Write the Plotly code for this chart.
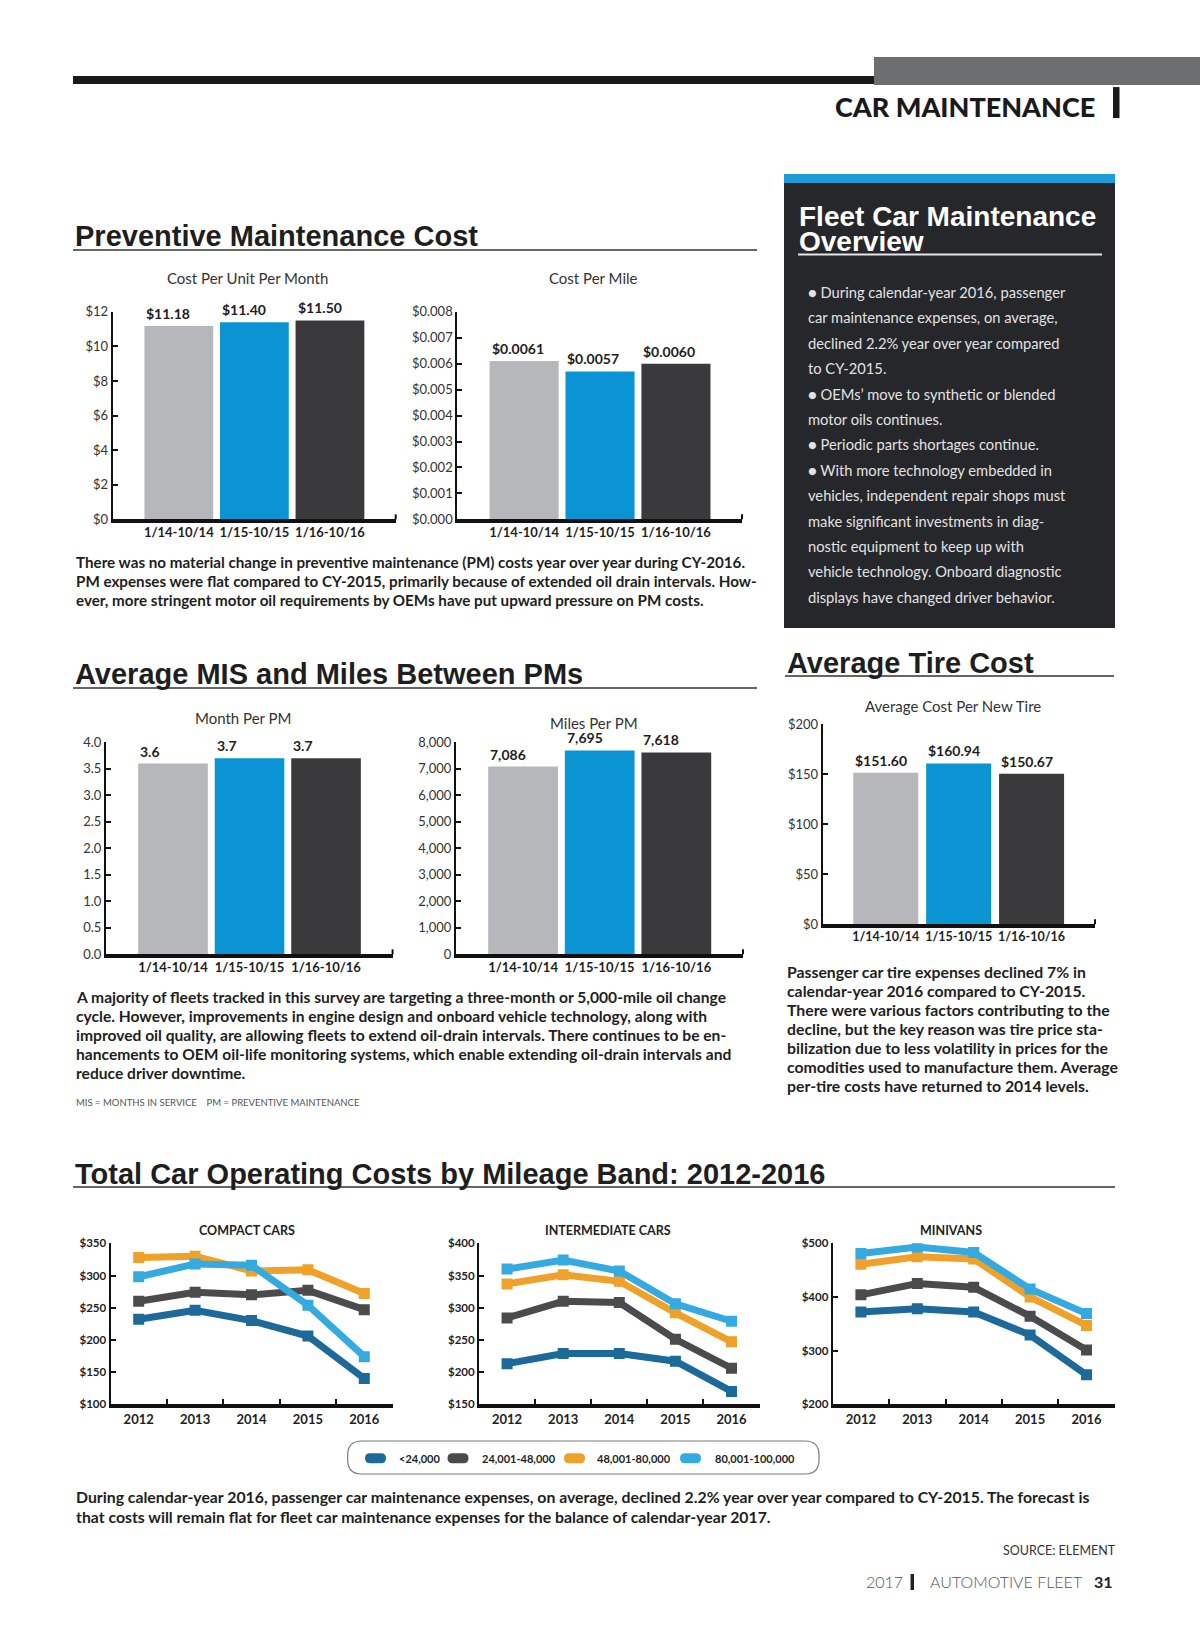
import plotly.graph_objects as go

W, H = 1200, 1638
PAGE_H = 1654          # rendered page height that is fitted into the 1638 picture
TOP = 8                # top offset of the figure on the page
FIG_H = PAGE_H - TOP

# ---------------- data ----------------
periods = ["1/14-10/14", "1/15-10/15", "1/16-10/16"]
cost_per_unit_month = [11.18, 11.40, 11.50]
cost_per_mile = [0.0061, 0.0057, 0.0060]
months_per_pm = [3.6, 3.7, 3.7]
miles_per_pm = [7086, 7695, 7618]
tire_cost = [151.60, 160.94, 150.67]
bar_colors = ["#b5b7ba", "#0b94d3", "#3a3a3c"]

years = ["2012", "2013", "2014", "2015", "2016"]
bands = ["<24,000", "24,001-48,000", "48,001-80,000", "80,001-100,000"]
band_colors = ["#1d6a9a", "#4b4b4d", "#f0a12a", "#35aae1"]

compact_lt24 = [232, 246, 230, 206, 140]
compact_24_48 = [260, 274, 270, 277, 247]
compact_48_80 = [328, 330, 307, 309, 272]
compact_80_100 = [298, 318, 316, 254, 174]

inter_lt24 = [213, 229, 229, 217, 170]
inter_24_48 = [284, 310, 308, 251, 206]
inter_48_80 = [337, 351, 341, 292, 247]
inter_80_100 = [360, 374, 357, 306, 279]

mini_lt24 = [372, 378, 372, 329, 255]
mini_24_48 = [404, 425, 418, 364, 301]
mini_48_80 = [461, 475, 471, 400, 347]
mini_80_100 = [481, 493, 483, 415, 369]

pm_text = [
    "There was no material change in preventive maintenance (PM) costs year over year during CY-2016.",
    "PM expenses were flat compared to CY-2015, primarily because of extended oil drain intervals. How-",
    "ever, more stringent motor oil requirements by OEMs have put upward pressure on PM costs.",
]
mis_text = [
    "A majority of fleets tracked in this survey are targeting a three-month or 5,000-mile oil change",
    "cycle. However, improvements in engine design and onboard vehicle technology, along with",
    "improved oil quality, are allowing fleets to extend oil-drain intervals. There continues to be en-",
    "hancements to OEM oil-life monitoring systems, which enable extending oil-drain intervals and",
    "reduce driver downtime.",
]
tire_text = [
    "Passenger car tire expenses declined 7% in",
    "calendar-year 2016 compared to CY-2015.",
    "There were various factors contributing to the",
    "decline, but the key reason was tire price sta-",
    "bilization due to less volatility in prices for the",
    "comodities used to manufacture them. Average",
    "per-tire costs have returned to 2014 levels.",
]
bottom_text = [
    "During calendar-year 2016, passenger car maintenance expenses, on average, declined 2.2% year over year compared to CY-2015. The forecast is",
    "that costs will remain flat for fleet car maintenance expenses for the balance of calendar-year 2017.",
]
overview_lines = [
    "● During calendar-year 2016, passenger",
    "car maintenance expenses, on average,",
    "declined 2.2% year over year compared",
    "to CY-2015.",
    "● OEMs’ move to synthetic or blended",
    "motor oils continues.",
    "● Periodic parts shortages continue.",
    "● With more technology embedded in",
    "vehicles, independent repair shops must",
    "make significant investments in diag-",
    "nostic equipment to keep up with",
    "vehicle technology. Onboard diagnostic",
    "displays have changed driver behavior.",
]

# ---------------- helpers ----------------
HEAD = "'Liberation Sans', Arial, sans-serif"
MYR = "Lato, 'Noto Sans', sans-serif"


def PX(p):
    return p / W


def PY(p):
    f = p * PAGE_H / H - TOP
    return 1 - f / FIG_H


fig = go.Figure()
annotations = []
shapes = []
layout = {}


def text(x, y, s, size, family=MYR, color="#1e1e1e", weight="normal", anchor="left"):
    annotations.append(dict(
        x=PX(x), y=PY(y), xref="paper", yref="paper", text=s, showarrow=False,
        xanchor=anchor, yanchor="middle",
        font=dict(size=size, family=family, color=color, weight=weight)))


def rect(x0, y0, x1, y1, color, layer="above"):
    shapes.append(dict(type="rect", xref="paper", yref="paper", x0=PX(x0), x1=PX(x1),
                       y0=PY(y1), y1=PY(y0), fillcolor=color, line=dict(width=0), layer=layer))


def hline(x0, x1, y, color="#333333", width=1.5):
    shapes.append(dict(type="line", xref="paper", yref="paper", x0=PX(x0), x1=PX(x1),
                       y0=PY(y), y1=PY(y), line=dict(color=color, width=width)))


def rrect_path(x0, y0, x1, y1, r):
    def p(x, y):
        return f"{PX(x):.6f},{PY(y):.6f}"
    return (f"M {p(x0 + r, y0)} L {p(x1 - r, y0)} Q {p(x1, y0)} {p(x1, y0 + r)} "
            f"L {p(x1, y1 - r)} Q {p(x1, y1)} {p(x1 - r, y1)} L {p(x0 + r, y1)} "
            f"Q {p(x0, y1)} {p(x0, y1 - r)} L {p(x0, y0 + r)} Q {p(x0, y0)} {p(x0 + r, y0)} Z")


# ---------------- bar charts ----------------
bar_charts = [
    dict(title="Cost Per Unit Per Month", values=cost_per_unit_month, x0=112.7, x1=395.7,
         ytop=311.7, ybot=519.3, yr=[0, 12], dtick=2, prefix="$", tfmt="d", lab="${:.2f}",
         tx=247.5, ty=278, xr=[-0.875, 2.87], w=0.91, cat=13),
    dict(title="Cost Per Mile", values=cost_per_mile, x0=457.3, x1=742,
         ytop=311.7, ybot=519.3, yr=[0, 0.008], dtick=0.001, prefix="$", tfmt=".3f", lab="${:.4f}",
         tx=593.5, ty=278, xr=[-0.88, 2.87], w=0.91, cat=13),
    dict(title="Month Per PM", values=months_per_pm, x0=106, x1=392.6,
         ytop=742.3, ybot=954.3, yr=[0, 4], dtick=0.5, prefix="", tfmt=".1f", lab="{:.1f}",
         tx=243, ty=718, xr=[-0.876, 2.87], w=0.91, cat=13),
    dict(title="Miles Per PM", values=miles_per_pm, x0=456, x1=743,
         ytop=742.3, ybot=954.3, yr=[0, 8000], dtick=1000, prefix="", tfmt=",d", lab="{:,}",
         tx=593.5, ty=723, xr=[-0.875, 2.87], w=0.91, cat=13),
    dict(title="Average Cost Per New Tire", values=tire_cost, x0=822.7, x1=1095,
         ytop=724.3, ybot=924.3, yr=[0, 200], dtick=50, prefix="$", tfmt="d", lab="${:.2f}",
         tx=952.7, ty=706, xr=[-0.865, 2.87], w=0.892, cat=12.5),
]

k = 0
for c in bar_charts:
    k += 1
    xs = "x" if k == 1 else f"x{k}"
    ys = "y" if k == 1 else f"y{k}"
    fig.add_trace(go.Bar(x=periods, y=c["values"], marker=dict(color=bar_colors, line=dict(width=0)),
                         width=c["w"], xaxis=xs, yaxis=ys, hoverinfo="skip"))
    layout["xaxis" if k == 1 else f"xaxis{k}"] = dict(
        domain=[PX(c["x0"]), PX(c["x1"])], anchor=ys, type="category", range=c["xr"],
        showline=True, linewidth=3.5, linecolor="#111", ticks="", showgrid=False, zeroline=False,
        tickfont=dict(family=MYR, size=c["cat"], color="#1e1e1e", weight="bold"), ticklabelstandoff=-2)
    layout["yaxis" if k == 1 else f"yaxis{k}"] = dict(
        domain=[PY(c["ybot"]), PY(c["ytop"])], anchor=xs, range=c["yr"], dtick=c["dtick"],
        tick0=0, tickprefix=c["prefix"], tickformat=c["tfmt"], showline=True, linewidth=2,
        linecolor="#111", ticks="inside", ticklen=5, tickwidth=1.5, tickcolor="#111",
        showgrid=False, zeroline=False, tickfont=dict(family=MYR, size=13, color="#333"))
    for j, v in enumerate(c["values"]):
        annotations.append(dict(x=j - c["w"] / 2, y=v, xref=xs, yref=ys, text=c["lab"].format(v),
                                showarrow=False, xanchor="left", yanchor="bottom", yshift=2,
                                font=dict(family=MYR, size=14, color="#1e1e1e", weight="bold")))
    text(c["tx"], c["ty"], c["title"], 15, color="#333", anchor="center")
    shapes.append(dict(type="line", xref="paper", yref="paper", x0=PX(c["x1"]), x1=PX(c["x1"]),
                       y0=PY(c["ybot"]), y1=PY(c["ybot"] - 5), line=dict(color="#111", width=2)))

# ---------------- line charts ----------------
line_charts = [
    dict(title="COMPACT CARS", series=[compact_lt24, compact_24_48, compact_48_80, compact_80_100],
         x0=110.5, x1=392.5, yr=[100, 350], dtick=50, tx=246.7),
    dict(title="INTERMEDIATE CARS", series=[inter_lt24, inter_24_48, inter_48_80, inter_80_100],
         x0=479, x1=759.6, yr=[150, 400], dtick=50, tx=607.5),
    dict(title="MINIVANS", series=[mini_lt24, mini_24_48, mini_48_80, mini_80_100],
         x0=832.7, x1=1114.7, yr=[200, 500], dtick=100, tx=951),
]
LT, LB = 1243.3, 1404.3
for c in line_charts:
    k += 1
    xs, ys = f"x{k}", f"y{k}"
    for name, vals, col in zip(bands, c["series"], band_colors):
        fig.add_trace(go.Scatter(x=years, y=vals, name=name, mode="lines+markers",
                                 line=dict(color=col, width=7),
                                 marker=dict(symbol="square", size=11, color=col),
                                 xaxis=xs, yaxis=ys, hoverinfo="skip"))
    layout[f"xaxis{k}"] = dict(
        domain=[PX(c["x0"]), PX(c["x1"])], anchor=ys, type="category", range=[-0.5, 4.5],
        showline=True, linewidth=3.5, linecolor="#111", ticks="inside", tickson="boundaries",
        ticklen=6, tickwidth=2, tickcolor="#111", showgrid=False, zeroline=False,
        tickfont=dict(family=MYR, size=13, color="#1e1e1e", weight="bold"), ticklabelstandoff=0)
    layout[f"yaxis{k}"] = dict(
        domain=[PY(LB), PY(LT)], anchor=xs, range=c["yr"], dtick=c["dtick"], tick0=0,
        tickprefix="$", showline=True, linewidth=2, linecolor="#111", ticks="inside",
        ticklen=5, tickwidth=1.5, tickcolor="#111", showgrid=False, zeroline=False,
        tickfont=dict(family=MYR, size=11.5, color="#1e1e1e", weight="bold"))
    text(c["tx"], 1230.7, c["title"], 12.5, color="#222", weight="bold", anchor="center")

# ---------------- legend (manual) ----------------
shapes.append(dict(type="path", xref="paper", yref="paper", path=rrect_path(347.7, 1441, 819, 1474, 14),
                   line=dict(color="#7a7a7a", width=1.2), fillcolor="white"))
sw_x = [365, 447.5, 564, 680]
lab_x = [397, 479.6, 595, 712.6]
for name, col, sx, lx in zip(bands, band_colors, sw_x, lab_x):
    shapes.append(dict(type="path", xref="paper", yref="paper",
                       path=rrect_path(sx, 1453.3, sx + 21, 1463.3, 5),
                       line=dict(width=0), fillcolor=col))
    text(lx, 1458, name, 11, weight="bold", color="#1e1e1e")

# ---------------- header ----------------
rect(874, 57, 1200, 85, "#6d6e71")
rect(73, 76, 874, 84, "#1a1a1a")
text(1097, 106.3, "CAR MAINTENANCE", 27, weight=900, color="#1a1a1a", anchor="right")
rect(1113, 87, 1119.5, 118, "#1a1a1a")

# ---------------- section titles ----------------
text(73, 236, "Preventive Maintenance Cost", 29, family=HEAD, weight="bold", color="#1e1e1e")
hline(73, 757, 250)
text(73, 674, "Average MIS and Miles Between PMs", 29, family=HEAD, weight="bold", color="#1e1e1e")
hline(73, 757, 688)
text(785, 662.5, "Average Tire Cost", 29, family=HEAD, weight="bold", color="#1e1e1e")
hline(785, 1114, 676)
text(73, 1174, "Total Car Operating Costs by Mileage Band: 2012-2016", 29, family=HEAD,
     weight="bold", color="#1e1e1e")
hline(73, 1115, 1187)

# ---------------- overview box ----------------
rect(784, 183, 1115, 628, "#26272a", layer="below")
rect(784, 174, 1115, 183, "#1f9bd7", layer="below")
text(797, 216, "Fleet Car Maintenance", 28, family=HEAD, weight="bold", color="white")
text(797, 241.5, "Overview", 28, family=HEAD, weight="bold", color="white")
hline(798, 1102, 254.5, color="#e6e6e6", width=2)
for i, s in enumerate(overview_lines):
    text(806, 292 + 25.4 * i, s, 14.7, color="#e2e2e2")

# ---------------- paragraphs ----------------
for i, s in enumerate(pm_text):
    text(74, 562 + 19 * i, s, 15.2, weight="bold")
for i, s in enumerate(mis_text):
    text(74, 996.5 + 19 * i, s, 15.6, weight="bold")
text(74, 1102, "MIS = MONTHS IN SERVICE    PM = PREVENTIVE MAINTENANCE", 9.5, color="#555")
for i, s in enumerate(tire_text):
    text(785, 971 + 19 * i, s, 15.8, weight="bold")
for i, s in enumerate(bottom_text):
    text(74, 1496.7 + 19.3 * i, s, 15.8, weight="bold")

# ---------------- footer ----------------
text(1117.5, 1550.7, "SOURCE: ELEMENT", 12.5, color="#333", anchor="right")
text(863.5, 1581.7, "2017", 16, color="#555", weight=300)
rect(910.5, 1574, 914, 1590, "#222")
text(928, 1581.7, "AUTOMOTIVE FLEET", 16, color="#555", weight=300)
text(1115, 1581.7, "31", 16, weight="bold", color="#222", anchor="right")

fig.update_layout(
    width=W, height=FIG_H, margin=dict(l=0, r=0, t=0, b=0),
    paper_bgcolor="white", plot_bgcolor="rgba(0,0,0,0)", showlegend=False,
    annotations=annotations, shapes=shapes, **layout)

fig.write_html("out.html", config={"displayModeBar": False},
               post_script="document.body.style.margin='0';document.body.style.overflow='hidden';")
